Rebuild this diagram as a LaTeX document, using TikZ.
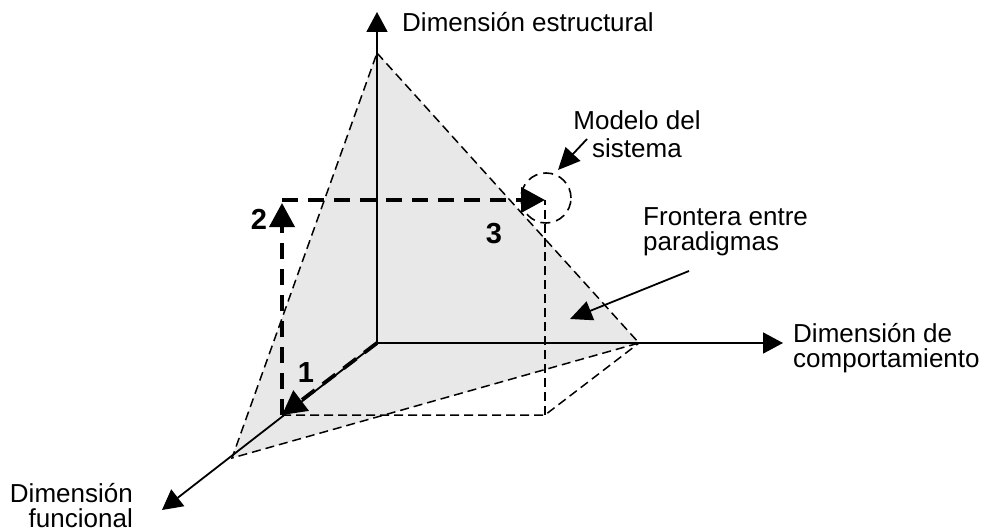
\documentclass[tikz,border=0pt]{standalone}
\usepackage{fontspec}
\setmainfont{Liberation Sans}
\usetikzlibrary{arrows.meta, positioning}
\definecolor{planegray}{HTML}{E8E8E8}

\begin{document}
\begin{tikzpicture}[
    x=1pt, y=-1pt,
    axis/.style={line width=1.8pt, -{Triangle[length=20pt, width=21pt]}},
    guide/.style={line width=1.5pt, dash pattern=on 9pt off 5pt},
    route/.style={line width=3.8pt, dash pattern=on 16pt off 10pt, -{Triangle[length=24pt, width=25pt]}},
    pointer/.style={line width=1.8pt, -{Triangle[length=22pt, width=20pt]}},
    label/.style={font=\fontsize{26}{25}\selectfont, inner sep=0pt},
    num/.style={font=\fontsize{29}{29}\selectfont\bfseries, inner sep=0pt}
]
\useasboundingbox (0,0) rectangle (987,532);
% points of the diagram
\coordinate (o) at (377,343);
\coordinate (tipS) at (377,12);
\coordinate (tipB) at (783,343);
\coordinate (tipF) at (162,510);
\coordinate (apex) at (377,53);
\coordinate (triB) at (639,343);
\coordinate (triF) at (232,458);
\coordinate (f1) at (282,415);
\coordinate (p) at (545,415);
\coordinate (m) at (545,200);
\coordinate (m2) at (282,200);
% boundary plane
\fill[planegray] (apex) -- (triB) -- (triF) -- cycle;
\draw[guide] (apex) -- (triB) -- (triF) -- cycle;
% projection box
\draw[guide] (f1) -- (p) -- (triB);
\draw[guide] (p) -- (m);
% axes
\draw[axis] (o) -- (tipS);
\draw[axis] (o) -- (tipB);
\draw[axis] (o) -- (tipF);
% steps 1, 2, 3
\draw[route] (o) -- (f1);
\draw[route] (f1) -- ([yshift=-3pt]m2);
\draw[route] (m2) -- (m);
\node[circle, draw, line width=1.6pt, dash pattern=on 10pt off 6pt, minimum size=50pt] (model) at (546,198) {};
\node[num] (n1) at (306,373) {1};
\node[num] (n2) at (259,219) {2};
\node[num] (n3) at (494,234) {3};
% labels
\node[label, anchor=west] (lstruct) at (402,22) {Dimensión estructural};
\node[label, anchor=west, align=left] (lbehav) at (793,348) {Dimensión de\\comportamiento};
\node[label, anchor=east, align=right] (lfunc) at (133,506) {Dimensión\\funcional};
\node[label, align=center, font=\fontsize{26}{28}\selectfont] (lmodel) at (637,134) {Modelo del\\sistema};
\node[label, anchor=west, align=left] (lbound) at (643,232) {Frontera entre\\paradigmas};
\coordinate (mtail) at (587,139);
\coordinate (mhead) at (558,170);
\coordinate (btail) at (689,271);
\coordinate (bhead) at (570,319);
\draw[pointer] (mtail) -- (mhead);
\draw[pointer] (btail) -- (bhead);
\end{tikzpicture}
\end{document}
